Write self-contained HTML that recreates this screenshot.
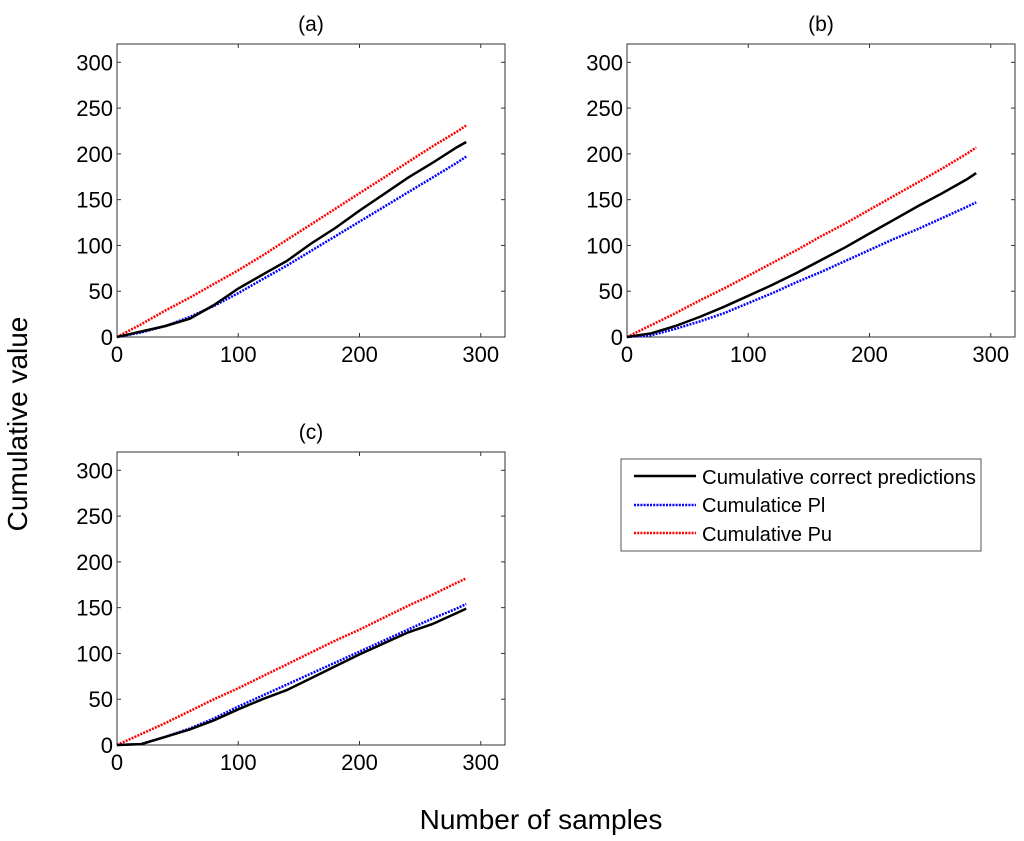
<!DOCTYPE html>
<html><head><meta charset="utf-8"><style>
body{margin:0;background:#fff;font-family:"Liberation Sans",Arial,sans-serif}
svg{display:block}
</style></head><body>
<svg id="fig" width="1024" height="841" viewBox="0 0 1024 841" xmlns="http://www.w3.org/2000/svg">
<text x="27" y="424" font-size="28" text-anchor="middle" transform="rotate(-90 27 424)">Cumulative value</text>
<text x="541" y="829" font-size="28" text-anchor="middle">Number of samples</text>
<g>
<rect x="621" y="459" width="360" height="92" fill="#fff" stroke="#555" stroke-width="1"/>
<line x1="634" y1="476" x2="696" y2="476" stroke="#000" stroke-width="2.5"/>
<text x="702" y="484" font-size="20" textLength="274" lengthAdjust="spacingAndGlyphs">Cumulative correct predictions</text>
<line x1="634" y1="505" x2="696" y2="505" stroke="#0000ff" stroke-width="2.5" stroke-dasharray="2 1.2"/>
<text x="702" y="512" font-size="20">Cumulatice Pl</text>
<line x1="634" y1="533" x2="696" y2="533" stroke="#ff0000" stroke-width="2.5" stroke-dasharray="2 1.2"/>
<text x="702" y="541" font-size="20">Cumulative Pu</text>
</g>
</svg>
<script>
const xs = [0,20,40,60,80,100,120,140,160,180,200,220,240,260,280,288];
const aCorrect = [0,6,12,20,35,53,68,83,102,119,138,156,174,190,207,213];
const aPl = [0,5,12,22,34,48,63,78,94,110,126,142,158,174,190,197];
const aPu = [0,14,29,43,58,73,89,106,123,140,157,174,191,208,224,231];
const bCorrect = [0,4,12,22,33,45,57,70,84,98,113,128,143,157,172,179];
const bPl = [0,2,9,17,26,37,48,60,71,83,95,107,118,130,142,147];
const bPu = [0,13,26,40,53,67,81,95,110,124,139,154,169,184,200,207];
const cCorrect = [0,1,9,17,27,39,50,60,73,86,99,111,123,132,144,149];
const cPl = [0,1,9,18,29,42,54,66,78,90,102,114,126,138,149,154];
const cPu = [0,12,24,37,50,62,75,88,101,114,126,139,152,164,177,182];
const ticks = [0,50,100,150,200,250,300];
const xticks = [0,100,200,300];
const panelTitles = ['(a)','(b)','(c)'];

const NS='http://www.w3.org/2000/svg';
const svg=document.getElementById('fig');
function mk(tag,attrs,parent){const e=document.createElementNS(NS,tag);for(const k in attrs)e.setAttribute(k,attrs[k]);parent.appendChild(e);return e;}
const panels=[{l:117,t:44,d:[aCorrect,aPl,aPu]},{l:627,t:44,d:[bCorrect,bPl,bPu]},{l:117,t:452,d:[cCorrect,cPl,cPu]}];
const W=388,H=293,MAX=320;
panels.forEach((p,i)=>{
  const g=mk('g',{},svg);
  
  
  const sx=v=>p.l+v/MAX*W, sy=v=>p.t+H-v/MAX*H;
  mk('rect',{x:p.l,y:p.t,width:W,height:H,fill:'#fff',stroke:'#333','stroke-width':1},g);
  const tt=mk('text',{x:p.l+W/2,y:p.t-13,'font-size':21,'text-anchor':'middle'},g);
  tt.textContent=panelTitles[i];
  
  
  ticks.forEach(v=>{
    mk('line',{x1:p.l,y1:sy(v),x2:p.l+4,y2:sy(v),stroke:'#333'},g);
    mk('line',{x1:p.l+W,y1:sy(v),x2:p.l+W-4,y2:sy(v),stroke:'#333'},g);
    const t=mk('text',{x:p.l-4,y:sy(v)+8,'font-size':22,'text-anchor':'end'},g);
    t.textContent=v;
    
    
  });
  xticks.forEach(v=>{
    mk('line',{x1:sx(v),y1:p.t+H,x2:sx(v),y2:p.t+H-4,stroke:'#333'},g);
    mk('line',{x1:sx(v),y1:p.t,x2:sx(v),y2:p.t+4,stroke:'#333'},g);
    const t=mk('text',{x:sx(v),y:p.t+H+25,'font-size':22,'text-anchor':'middle'},g);
    t.textContent=v;
    
    
  });
  const styles=[['#000','none','series-correct'],['#0000ff','2 1.2','series-pl'],['#ff0000','2 1.2','series-pu']];
  [2,1,0].forEach(k=>{
    const pts=xs.map((x,j)=>sx(x).toFixed(1)+','+sy(p.d[k][j]).toFixed(1)).join(' ');
    const pl=mk('polyline',{points:pts,fill:'none',stroke:styles[k][0],'stroke-width':2.5,'stroke-dasharray':styles[k][1]},g);
    
    
  });
});
</script>
</body></html>
